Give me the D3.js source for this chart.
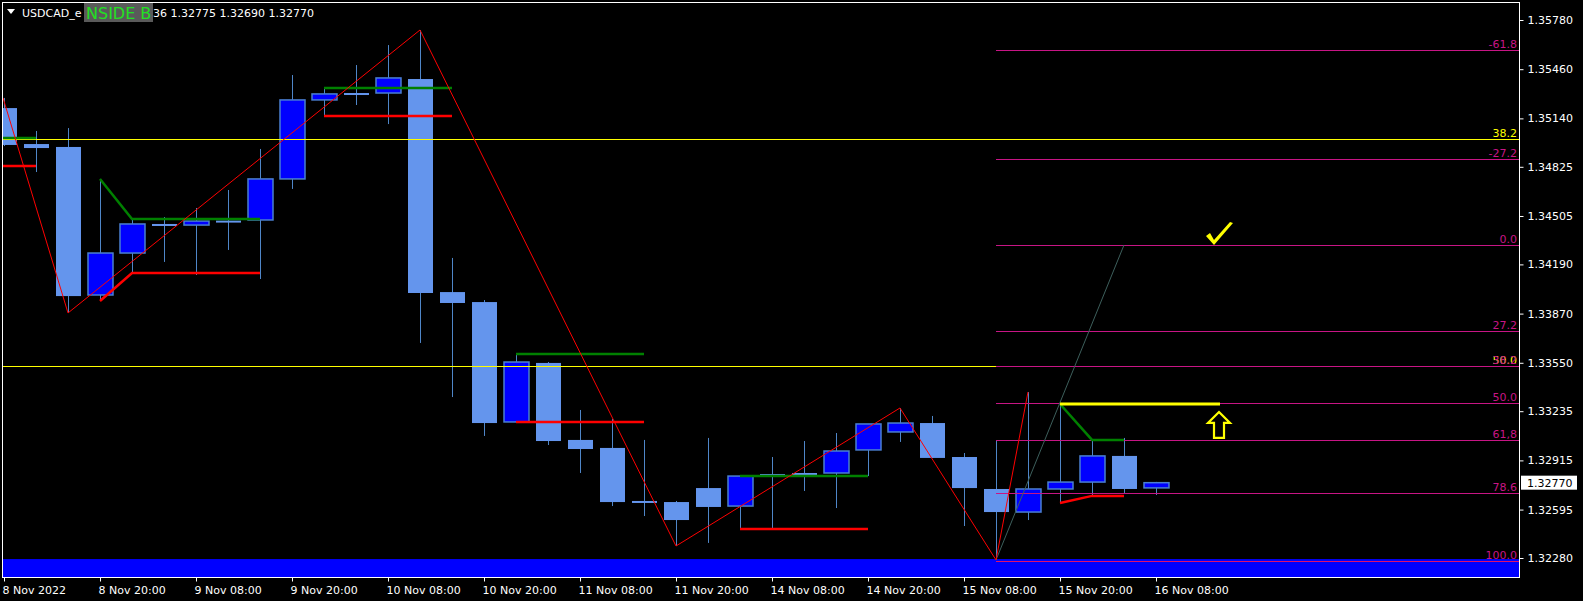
<!DOCTYPE html>
<html><head><meta charset="utf-8">
<script src="https://cdn.jsdelivr.net/npm/d3@7"></script>
<style>
body{margin:0;background:#000;overflow:hidden}
svg{display:block}
text{font-family:"DejaVu Sans",Tahoma,sans-serif}
</style>
</head><body>
<svg id="c" width="1583" height="601"></svg>
<script>
// ---------- data ----------
const symbolName = "USDCAD_e";
const headerBadge = "NSIDE B";
const headerValues = "36 1.32775 1.32690 1.32770";
const lastPrice = 1.32770;

const opens  = [1.35207,1.34973,1.34954,1.33991,1.34264,1.34453,1.34446,1.34475,1.34479,1.34746,1.35260,1.35305,1.35305,1.35396,1.34010,1.33945,1.33165,1.33549,1.33048,1.32996,1.32651,1.32644,1.32735,1.32618,1.32826,1.32833,1.32833,1.32983,1.33100,1.33158,1.32937,1.32729,1.32579,1.32729,1.32774,1.32944,1.32736];
const highs  = [1.35273,1.35058,1.35077,1.34746,1.34485,1.34498,1.34557,1.34674,1.34941,1.35422,1.35338,1.35487,1.35617,1.35715,1.34232,1.33958,1.33607,1.33555,1.33243,1.33184,1.33048,1.32651,1.33061,1.32813,1.32937,1.33041,1.33093,1.33152,1.33256,1.33204,1.32963,1.33041,1.33360,1.33282,1.33048,1.33061,1.32775];
const lows   = [1.34960,1.34791,1.33874,1.33952,1.34134,1.34206,1.34121,1.34284,1.34095,1.34681,1.35155,1.35227,1.35103,1.33679,1.33327,1.33074,1.33165,1.33015,1.32833,1.32618,1.32553,1.32358,1.32378,1.32469,1.32475,1.32716,1.32605,1.32813,1.33035,1.32931,1.32488,1.32267,1.32527,1.32638,1.32690,1.32703,1.32690];
const closes = [1.34967,1.34947,1.33984,1.34264,1.34453,1.34440,1.34472,1.34468,1.34746,1.35260,1.35299,1.35295,1.35403,1.34004,1.33939,1.33158,1.33555,1.33041,1.32989,1.32644,1.32638,1.32527,1.32612,1.32813,1.32820,1.32820,1.32976,1.33152,1.33158,1.32931,1.32735,1.32579,1.32729,1.32774,1.32944,1.32729,1.32770];

const timeTickIndex  = [0,3,6,9,12,15,18,21,24,27,30,33,36];
const timeTickLabels = ["8 Nov 2022","8 Nov 20:00","9 Nov 08:00","9 Nov 20:00","10 Nov 08:00","10 Nov 20:00","11 Nov 08:00","11 Nov 20:00","14 Nov 08:00","14 Nov 20:00","15 Nov 08:00","15 Nov 20:00","16 Nov 08:00"];
const priceTicks = [1.35780,1.35460,1.35140,1.34825,1.34505,1.34190,1.33870,1.33550,1.33235,1.32915,1.32595,1.32280];

// zigzag [barIndex, price]
const zigzag = [[-0.03,1.35273],[2,1.33874],[13,1.35715],[21,1.32358],[28,1.33256],[31,1.32267],[32,1.33360]];
// projection line
const projection = [[31,1.32267],[35,1.34316]];
// yellow horizontal levels
const yellowLevels = [1.35006,1.33529];
const yellowLabels = ["38.2","50.0"];
// fibonacci (magenta)
const fibStartIndex = 31;
const fibPrice0 = 1.34316, fibPrice100 = 1.32260;
const fibLevels = [-61.8,-27.2,0.0,27.2,38.2,50.0,61.8,78.6,100.0];
const fibLabels = ["-61.8","-27.2","0.0","27.2","38.2","50.0","61,8","78.6","100.0"];
// inside bar lines
const greenLines = [
  [[-0.03,1.35012],[1,1.35012]],
  [[3,1.34746],[4,1.34485],[8,1.34485]],
  [[10,1.35338],[14,1.35338]],
  [[16,1.33607],[20,1.33607]],
  [[23,1.32813],[27,1.32813]],
  [[33,1.33282],[34,1.33048],[35,1.33048]]
];
const redLines = [
  [[-0.03,1.34830],[1,1.34830]],
  [[3,1.33952],[4,1.34134],[8,1.34134]],
  [[10,1.35155],[14,1.35155]],
  [[16,1.33165],[20,1.33165]],
  [[23,1.32469],[27,1.32469]],
  [[33,1.32638],[34,1.32684],[35,1.32684]]
];
// target line, arrow, check
const targetLine = [[33,1.33282],[38,1.33282]];
const arrowAt = [38,1.33230];
const checkAt = [38,1.34316];
const zoneTop = 1.32273;

// ---------- layout ----------
const W = 1583, H = 601;
const L = 3, R = 1519, T = 3, B = 577;
const svg = d3.select("#c");
const x = d3.scaleLinear().domain([0,36]).range([4,1156]);
const y = d3.scaleLinear().domain([1.32280,1.35780]).range([558,20]);

svg.append("rect").attr("width",W).attr("height",H).attr("fill","#000");
svg.append("clipPath").attr("id","plot").append("rect").attr("x",L).attr("y",T).attr("width",R-L).attr("height",B-T);
const g = svg.append("g").attr("clip-path","url(#plot)");

// zone
g.append("rect").attr("x",L).attr("y",y(zoneTop)).attr("width",R-L).attr("height",B-y(zoneTop)).attr("fill","#0000FF");

// candles
const bars = d3.range(opens.length).map(i=>({i,o:opens[i],h:highs[i],l:lows[i],c:closes[i]}));
const wickColor = "#4f86c8";
g.selectAll("line.wick").data(bars).join("line").attr("class","wick")
  .attr("x1",d=>Math.round(x(d.i))+0.5).attr("x2",d=>Math.round(x(d.i))+0.5)
  .attr("y1",d=>y(d.h)).attr("y2",d=>y(d.l))
  .attr("stroke",wickColor).attr("stroke-width",1);
g.selectAll("rect.body").data(bars).join("rect").attr("class","body")
  .attr("x",d=>Math.round(x(d.i))-12)
  .attr("y",d=>y(Math.max(d.o,d.c)))
  .attr("width",25)
  .attr("height",d=>Math.max(2,Math.abs(y(d.o)-y(d.c))))
  .attr("fill",d=>d.c>=d.o?"#0000FF":"#6495ED")
  .attr("stroke",d=>d.c>=d.o?"#4a7fd0":"none").attr("stroke-width",1.5);

const line = d3.line().x(d=>x(d[0])).y(d=>y(d[1]));

// yellow horizontal levels
g.selectAll("line.ylev").data(yellowLevels).join("line")
  .attr("x1",L).attr("x2",R).attr("y1",d=>Math.round(y(d))+0.5).attr("y2",d=>Math.round(y(d))+0.5)
  .attr("stroke","#FFFF00").attr("stroke-width",1);

// fib lines
const fibPrice = lv => fibPrice0 - (fibPrice0-fibPrice100)*lv/100;
g.selectAll("line.fib").data(fibLevels).join("line")
  .attr("x1",x(fibStartIndex)).attr("x2",R)
  .attr("y1",d=>Math.round(y(fibPrice(d)))+0.5).attr("y2",d=>Math.round(y(fibPrice(d)))+0.5)
  .attr("stroke",d=>d===100?"#E0106A":"#C71585").attr("stroke-width",1);

// green / red inside bar lines
greenLines.forEach(p=>g.append("path").attr("d",line(p)).attr("fill","none").attr("stroke","#008000").attr("stroke-width",2.5));
redLines.forEach(p=>g.append("path").attr("d",line(p)).attr("fill","none").attr("stroke","#FF0000").attr("stroke-width",2.5));

// projection
g.append("path").attr("d",line(projection)).attr("fill","none").attr("stroke","#3d5f5c").attr("stroke-width",1);
// zigzag
g.append("path").attr("d",line(zigzag)).attr("fill","none").attr("stroke","#FF0000").attr("stroke-width",1);
// target line
g.append("path").attr("d",line(targetLine)).attr("fill","none").attr("stroke","#FFFF00").attr("stroke-width",3);

// arrow
{
  const ax = x(arrowAt[0]) - 1, ay = y(arrowAt[1]);
  const pts = [[ax,ay],[ax+11,ay+11],[ax+5,ay+11],[ax+5,ay+26],[ax-5,ay+26],[ax-5,ay+11],[ax-11,ay+11]];
  g.append("path").attr("d","M"+pts.map(p=>p.join(",")).join("L")+"Z")
    .attr("fill","#000").attr("stroke","#FFFF00").attr("stroke-width",2.2).attr("stroke-linejoin","miter");
}
// check mark
{
  const cx = x(checkAt[0]), cy = y(checkAt[1]);
  const pts = [[cx-14,cy-9],[cx-10,cy-12],[cx-6,cy-5],[cx+10,cy-23],[cx+13,cy-22],[cx-6,cy]];
  g.append("path").attr("d","M"+pts.map(p=>p.join(",")).join("L")+"Z").attr("fill","#FFFF00");
}

// labels (fib + yellow)
g.selectAll("text.ylab").data(yellowLevels).join("text")
  .attr("x",R-2).attr("y",d=>y(d)-2).attr("text-anchor","end").attr("font-size",11).attr("fill","#FFFF00")
  .text((d,i)=>yellowLabels[i]);
g.selectAll("text.flab").data(fibLevels).join("text")
  .attr("x",R-2).attr("y",d=>y(fibPrice(d))-2).attr("text-anchor","end").attr("font-size",11).attr("fill","#C71585")
  .text((d,i)=>fibLabels[i]);

// border
svg.append("rect").attr("x",L-0.5).attr("y",T-0.5).attr("width",R-L+1).attr("height",B-T+1)
  .attr("fill","none").attr("stroke","#FFFFFF").attr("stroke-width",1);

// right axis
const yAxis = d3.axisRight(y).tickValues(priceTicks).tickFormat(d3.format(".5f")).tickSize(4).tickPadding(4);
const ya = svg.append("g").attr("transform",`translate(${R+0.5},0)`).call(yAxis);
ya.select(".domain").remove();
ya.selectAll("line").attr("stroke","#fff");
ya.selectAll("text").attr("fill","#fff").attr("font-size",11).attr("font-family","DejaVu Sans");

// bottom axis
const xAxis = d3.axisBottom(x).tickValues(timeTickIndex).tickFormat((d,i)=>timeTickLabels[i]).tickSize(4);
const xa = svg.append("g").attr("transform",`translate(0,${B+0.5})`).call(xAxis);
xa.select(".domain").remove();
xa.selectAll("line").attr("stroke","#fff");
xa.selectAll("text").attr("fill","#fff").attr("font-size",11).attr("font-family","DejaVu Sans")
  .attr("text-anchor","start").attr("dx",-2).attr("dy",0).attr("y",16);

// current price label
svg.append("rect").attr("x",R+2).attr("y",y(lastPrice)-7).attr("width",56).attr("height",14).attr("fill","#fff");
svg.append("text").attr("x",R+8).attr("y",y(lastPrice)+4).attr("font-size",11).attr("fill","#000").text(d3.format(".5f")(lastPrice));

// header
svg.append("path").attr("d","M7,9L15,9L11,14Z").attr("fill","#fff");
svg.append("text").attr("x",22).attr("y",17).attr("font-size",11).attr("fill","#fff").text(symbolName);
svg.append("clipPath").attr("id","badge").append("rect").attr("x",84).attr("y",3).attr("width",69).attr("height",19);
svg.append("rect").attr("x",84).attr("y",3).attr("width",69).attr("height",19).attr("fill","#5a5a5a");
svg.append("text").attr("clip-path","url(#badge)").attr("x",86).attr("y",19).attr("font-size",16).attr("fill","#22e022").text(headerBadge);
svg.append("text").attr("x",153).attr("y",17).attr("font-size",11).attr("fill","#fff").text(headerValues);
</script>
</body></html>
